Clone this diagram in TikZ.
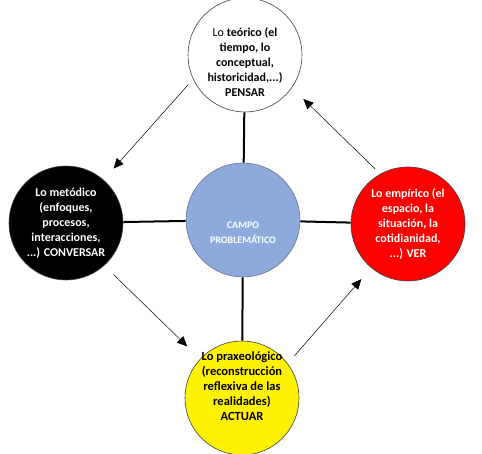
\documentclass[tikz,border=0pt]{standalone}
\usepackage{fontspec}
\setmainfont{Carlito}
\usetikzlibrary{arrows.meta}
\definecolor{campoblue}{RGB}{142,169,219}
\tikzset{
  circ/.style={circle, draw=black!75, line width=0.6pt, minimum size=114pt, inner sep=0pt},
  txt/.style={inner sep=0pt, align=center, font=\bfseries\fontsize{12}{15}\selectfont},
  link/.style={line width=2pt, black},
  flow/.style={line width=0.5pt, -{Triangle[length=10pt,width=9pt]}}
}
\begin{document}
\begin{tikzpicture}[x=1pt,y=1pt]
\useasboundingbox (0,0) rectangle (482,454);
\node[circ, fill=white] (teo) at (245,399) {};
\node[circ, fill=black] (met) at (66,231) {};
\node[circ, fill=red] (emp) at (408,230) {};
\node[circ, fill=yellow] (pra) at (242,56) {};
\node[circ, fill=campoblue, draw=campoblue!70!black] (campo) at (243,234) {};
\draw[link] (teo) -- (campo);
\draw[link] (met) -- (campo);
\draw[link] (campo) -- (emp);
\draw[link] (campo) -- (pra);
\node[txt] (teoT) at ([yshift=-7pt]teo.center) {\mdseries Lo \bfseries teórico (el\\tiempo, lo\\conceptual,\\historicidad,...)\\PENSAR};
\node[txt, text=white] (metT) at (met.center) {Lo metódico\\(enfoques,\\procesos,\\interacciones,\\...) CONVERSAR};
\node[txt, text=white] (empT) at (emp.center) {Lo empírico (el\\espacio, la\\situación, la\\cotidianidad,\\...) VER};
\node[txt, font=\bfseries\fontsize{12.5}{15}\selectfont] (praT) at ([yshift=12pt]pra.center) {Lo praxeológico\\(reconstrucción\\reflexiva de las\\realidades)\\ACTUAR};
\node[txt, text=white, font=\bfseries\fontsize{10}{15}\selectfont] (campoT) at ([yshift=-13pt]campo.center) {CAMPO\\PROBLEMÁTICO};
\draw[flow, shorten <=8pt, shorten >=15pt] (teo.205) -- (met.49);
\draw[flow, shorten <=13pt, shorten >=18pt] (met.-48) -- (pra.137);
\draw[flow, shorten <=10pt, shorten >=15pt] (pra.37) -- (emp.230);
\draw[flow, shorten <=7pt, shorten >=16pt] (emp.119) -- (teo.-35);
\end{tikzpicture}
\end{document}
